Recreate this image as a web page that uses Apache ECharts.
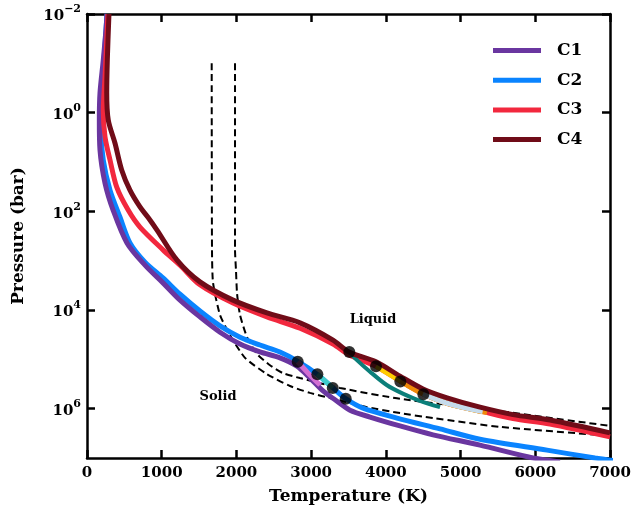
<!DOCTYPE html>
<html><head><meta charset="utf-8">
<script src="https://cdn.jsdelivr.net/npm/echarts@6/dist/echarts.min.js"></script>
<style>html,body{margin:0;padding:0;background:#fff}#c{width:634px;height:510px}</style>
</head><body><div id="c"></div>
<script>
// Temperature (K) and log10(pressure / bar)
const c1T    = [268, 254, 218, 174, 165, 174, 241, 348, 535, 776, 1017, 1245, 1512, 1780, 2048, 2315, 2583, 2811, 2985, 3159, 3320, 3520, 3788, 4189, 4631, 5260, 5970, 6331];
const c1LogP = [-2.0, -1.68, -1.07, -0.40, 0.15, 0.76, 1.43, 1.97, 2.64, 3.09, 3.45, 3.80, 4.14, 4.45, 4.69, 4.85, 4.97, 5.14, 5.38, 5.64, 5.82, 6.03, 6.17, 6.35, 6.53, 6.74, 7.0, 7.08];

const c2T    = [268, 228, 187, 187, 218, 308, 442, 575, 776, 1017, 1245, 1512, 1780, 2048, 2315, 2583, 2811, 3079, 3293, 3467, 3694, 4149, 4725, 5260, 6157, 6800, 7134];
const c2LogP = [-2.0, -1.07, -0.26, 0.35, 0.96, 1.57, 2.12, 2.64, 3.03, 3.35, 3.68, 4.02, 4.32, 4.55, 4.71, 4.85, 5.03, 5.30, 5.58, 5.80, 5.99, 6.19, 6.41, 6.62, 6.84, 7.0, 7.07];

const c3T    = [281, 241, 218, 241, 308, 398, 549, 709, 1017, 1245, 1512, 1954, 2409, 2851, 3293, 3507, 3868, 4194, 4497, 4819, 5300, 5702, 6197, 7000];
const c3LogP = [-2.0, -0.72, -0.05, 0.49, 0.96, 1.51, 1.97, 2.32, 2.78, 3.09, 3.49, 3.86, 4.14, 4.37, 4.69, 4.91, 5.14, 5.44, 5.70, 5.89, 6.06, 6.20, 6.31, 6.57];

const c4T    = [294, 272, 264, 285, 375, 464, 575, 709, 816, 937, 1205, 1512, 1954, 2409, 2851, 3293, 3507, 3868, 4189, 4497, 4819, 5260, 5702, 6197, 7000];
const c4LogP = [-2.0, -1.07, -0.40, 0.15, 0.62, 1.16, 1.57, 1.91, 2.12, 2.38, 2.99, 3.43, 3.80, 4.06, 4.26, 4.61, 4.85, 5.05, 5.34, 5.60, 5.78, 5.97, 6.12, 6.23, 6.49];

const tealT = [3511, 3610, 3788, 4011, 4234, 4457, 4725];
const tealLogP = [4.85, 5.01, 5.25, 5.52, 5.70, 5.84, 5.97];
const yellowT = [3868, 4194, 4497, 4819, 5300];
const yellowLogP = [5.14, 5.44, 5.70, 5.89, 6.06];
const orangeT = [4194, 4497, 4819, 5354];
const orangeLogP = [5.44, 5.70, 5.89, 6.08];
const paleT = [4497, 4819, 5296];
const paleLogP = [5.70, 5.89, 6.06];
const orchidT = [2820, 2960, 3119];
const orchidLogP = [5.05, 5.28, 5.52];
const cyanT = [3083, 3190, 3289];
const cyanLogP = [5.30, 5.44, 5.58];

const dotT = [2820, 3083, 3289, 3463, 3511, 3868, 4194, 4502];
const dotLogP = [5.05, 5.30, 5.58, 5.80, 4.85, 5.14, 5.45, 5.71];

const dashAT = [1669, 1673, 1687, 1780, 1914, 2115, 2409, 2717, 2985, 3293, 3748, 4189, 4631, 5528, 7000];
const dashALogP = [-1.0, 2.78, 3.45, 4.10, 4.51, 4.97, 5.30, 5.54, 5.68, 5.80, 5.97, 6.09, 6.19, 6.37, 6.55];
const dashBT = [1981, 1981, 1994, 2008, 2048, 2142, 2275, 2449, 2623, 2851, 3386, 4189, 5528, 7000];
const dashBLogP = [-1.0, 2.78, 3.19, 3.66, 4.10, 4.55, 4.89, 5.12, 5.28, 5.38, 5.58, 5.80, 6.05, 6.35];

const seriesNames = ['C1', 'C2', 'C3', 'C4'];
const xTitle = 'Temperature (K)';
const yTitle = 'Pressure (bar)';

const FONT = '"DejaVu Serif", serif';
const zip = (a, b) => a.map((v, i) => [v, b[i]]);

function curve(name, T, P, color, width, extra) {
  return Object.assign({
    name, type: 'line', data: zip(T, P), smooth: 0.3, showSymbol: false, symbol: 'none',
    lineStyle: { color, width, cap: 'butt' }, itemStyle: { color }, silent: true, clip: true
  }, extra || {});
}

const chart = echarts.init(document.getElementById('c'), null, { renderer: 'canvas' });
const axisCommon = {
  axisLine: { show: true, onZero: false, lineStyle: { color: '#000', width: 2.5 } },
  axisTick: { show: true, inside: true, length: 8, lineStyle: { color: '#000', width: 2.5 } },
  splitLine: { show: false }
};
chart.setOption({
  animation: false,
  backgroundColor: '#fff',
  grid: { left: 87, right: 24, top: 14, bottom: 52, containLabel: false, outerBoundsMode: 'none' },
  legend: {
    data: seriesNames, orient: 'vertical', left: 488, top: 37,
    icon: 'rect', itemWidth: 48, itemHeight: 5, itemGap: 12.7,
    textStyle: { fontFamily: FONT, fontWeight: 'bold', fontSize: 17, color: '#000', padding: [0, 0, 0, 11] }
  },
  xAxis: [
    Object.assign({
      type: 'value', min: 0, max: 7000, interval: 1000, position: 'bottom',
      axisLabel: { color: '#000', fontSize: 15, fontWeight: 'bold', fontFamily: FONT, margin: 8, formatter: v => String(v) },
      name: xTitle, nameLocation: 'middle', nameGap: 30,
      nameTextStyle: { color: '#000', fontSize: 17, fontWeight: 'bold', fontFamily: FONT }
    }, axisCommon),
    Object.assign({
      type: 'value', min: 0, max: 7000, interval: 1000, position: 'top',
      axisLabel: { show: false }
    }, axisCommon)
  ],
  yAxis: [
    Object.assign({
      type: 'value', inverse: true, min: -2, max: 7, interval: 2, position: 'left',
      axisLabel: {
        color: '#000', margin: 6, showMaxLabel: false,
        formatter: v => '{b|10}{s|' + String(v).replace('-', '\u2212') + '}',
        rich: {
          b: { fontSize: 15, fontWeight: 'bold', fontFamily: FONT, color: '#000', lineHeight: 20, verticalAlign: 'bottom' },
          s: { fontSize: 11, fontWeight: 'bold', fontFamily: FONT, color: '#000', lineHeight: 11, verticalAlign: 'top' }
        }
      },
      name: yTitle, nameLocation: 'middle', nameGap: 60, nameRotate: 90,
      nameTextStyle: { color: '#000', fontSize: 17, fontWeight: 'bold', fontFamily: FONT }
    }, axisCommon),
    Object.assign({
      type: 'value', inverse: true, min: -2, max: 7, interval: 2, position: 'right',
      axisLabel: { show: false }
    }, axisCommon)
  ],
  graphic: [
    { type: 'text', x: 373, y: 320, style: { text: 'Liquid', font: 'bold 13px "DejaVu Serif"', fill: '#000', textAlign: 'center', textVerticalAlign: 'middle' } },
    { type: 'text', x: 218, y: 397, style: { text: 'Solid', font: 'bold 13px "DejaVu Serif"', fill: '#000', textAlign: 'center', textVerticalAlign: 'middle' } }
  ],
  series: [
    curve('dashA', dashAT, dashALogP, '#000', 2, { lineStyle: { color: '#000', width: 2, type: [7, 4] }, smooth: 0.2 }),
    curve('dashB', dashBT, dashBLogP, '#000', 2, { lineStyle: { color: '#000', width: 2, type: [7, 4] }, smooth: 0.2 }),
    curve('C2', c2T, c2LogP, '#0a84ff', 5),
    curve('C1', c1T, c1LogP, '#6a36a0', 5),
    curve('orchid', orchidT, orchidLogP, '#d26ed2', 5),
    curve('cyan', cyanT, cyanLogP, '#40cccc', 5),
    curve('C3', c3T, c3LogP, '#f2283e', 5),
    curve('yellow', yellowT, yellowLogP, '#ffcc00', 5),
    curve('orange', orangeT, orangeLogP, '#f08a0a', 5),
    curve('pale', paleT, paleLogP, '#c6dbec', 5),
    curve('teal', tealT, tealLogP, '#0b7f7a', 4),
    curve('C4', c4T, c4LogP, '#700c18', 5),
    { name: 'dots', type: 'scatter', data: zip(dotT, dotLogP), symbol: 'circle', symbolSize: 12,
      itemStyle: { color: '#000' }, z: 5, silent: true }
  ]
});
</script></body></html>
